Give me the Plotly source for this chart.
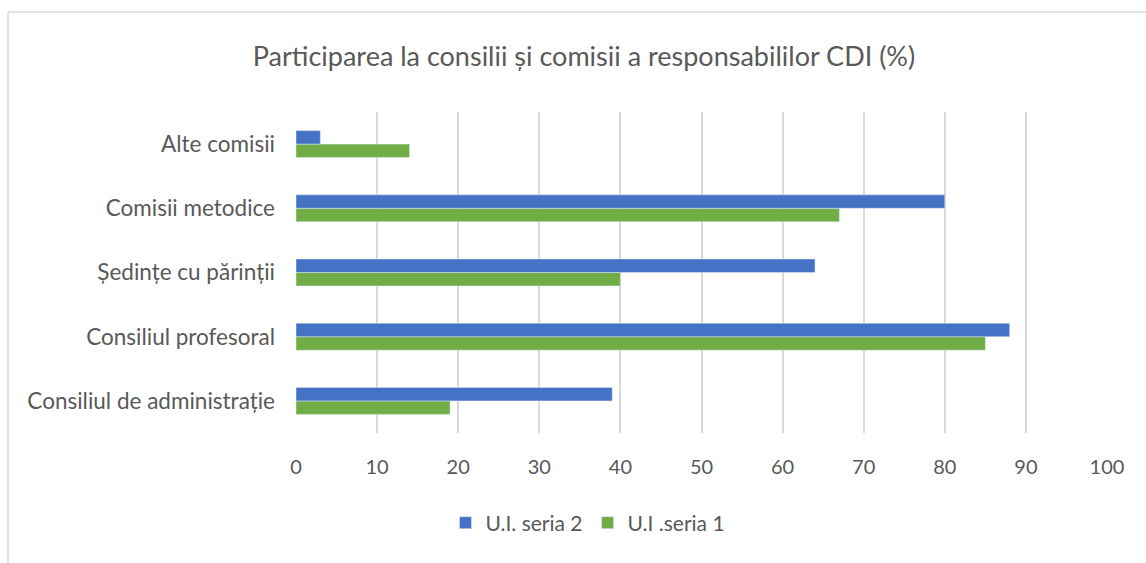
import plotly.graph_objects as go

categories = [
    "Consiliul de administrație",
    "Consiliul profesoral",
    "Ședințe cu părinții",
    "Comisii metodice",
    "Alte comisii",
]
seria2 = [39, 88, 64, 80, 3]
seria1 = [19, 85, 40, 67, 14]
x_ticks = [0, 10, 20, 30, 40, 50, 60, 70, 80, 90, 100]

W, H = 1146, 563
L, R, T, B = 296, 1107, 112, 433

FONT = "Lato, 'Noto Sans', sans-serif"
TEXT = "#595959"

fig = go.Figure()
fig.add_trace(go.Bar(
    y=categories, x=seria1, orientation="h", name="U.I .seria 1",
    marker=dict(color="#70AD47"), legendrank=2,
))
fig.add_trace(go.Bar(
    y=categories, x=seria2, orientation="h", name="U.I. seria 2",
    marker=dict(color="#4472C4"), legendrank=1,
))

def px_x(p):
    return (p - L) / (R - L)

def px_y(p):
    return (B - p) / (B - T)

# chart frame (top and left edges)
fig.add_shape(type="line", xref="paper", yref="paper",
              x0=px_x(8), x1=px_x(1160), y0=px_y(12), y1=px_y(12),
              line=dict(color="#D9D9D9", width=1.5))
fig.add_shape(type="line", xref="paper", yref="paper",
              x0=px_x(8), x1=px_x(8), y0=px_y(12), y1=px_y(580),
              line=dict(color="#D9D9D9", width=1.5))

fig.update_layout(
    width=W, height=H,
    margin=dict(l=L, r=W - R, t=T, b=H - B),
    paper_bgcolor="white", plot_bgcolor="white",
    barmode="group", bargap=0.58, bargroupgap=0,
    font=dict(family=FONT, color=TEXT, size=21),
    title=dict(text="Participarea la consilii și comisii a responsabililor CDI (%)",
               x=584 / W, xanchor="center", y=1 - 57 / H, yanchor="middle",
               font=dict(size=27, color=TEXT, family=FONT)),
    xaxis=dict(range=[0, 100], tickvals=x_ticks, showgrid=True,
               gridcolor="#D9D9D9", gridwidth=1.5, zeroline=False,
               showline=False, ticks="", ticklabelstandoff=20,
               tickfont=dict(size=20, color=TEXT)),
    yaxis=dict(categoryorder="array", categoryarray=categories,
               showgrid=False, showline=False, ticks="",
               ticklabelstandoff=20, tickfont=dict(size=22.5, color=TEXT)),
    legend=dict(orientation="h", x=px_x(588), xanchor="center",
                y=px_y(523), yanchor="middle",
                font=dict(size=21, color=TEXT), itemwidth=30,
                traceorder="normal"),
    showlegend=True,
)

fig.write_html("out.html")
